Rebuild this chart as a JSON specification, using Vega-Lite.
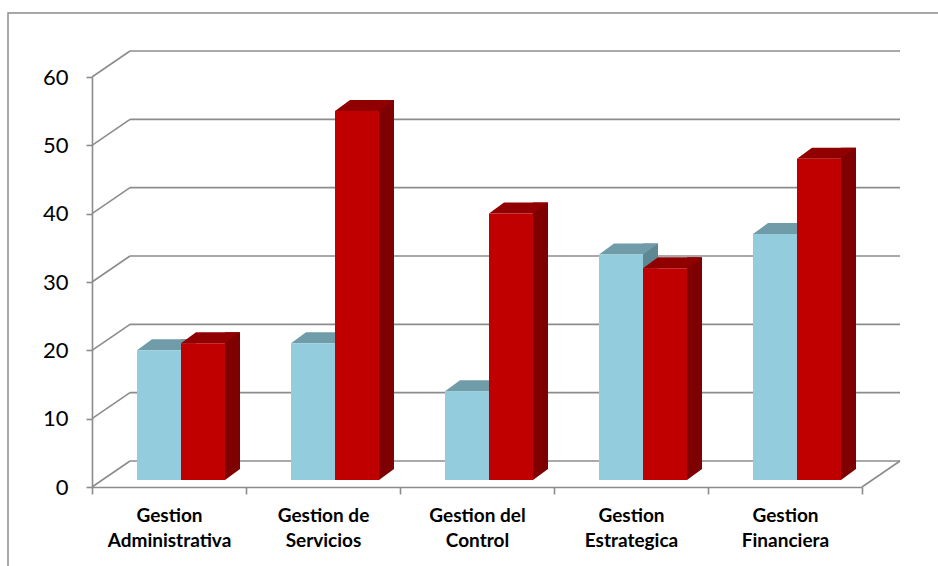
{
  "$schema": "https://vega.github.io/schema/vega-lite/v6.json",
  "width": 932,
  "height": 560,
  "autosize": {"type": "none"},
  "padding": {"left": 8, "top": 13, "right": 0, "bottom": 0},
  "background": "white",
  "config": {
    "view": {"stroke": "#8c8c8c", "strokeWidth": 1.5},
    "font": "Lato"
  },
  "datasets": {
    "bars": [
      {"cat": "Gestion Administrativa", "serie": "Serie 1", "value": 19},
      {"cat": "Gestion Administrativa", "serie": "Serie 2", "value": 20},
      {"cat": "Gestion de Servicios", "serie": "Serie 1", "value": 20},
      {"cat": "Gestion de Servicios", "serie": "Serie 2", "value": 54},
      {"cat": "Gestion del Control", "serie": "Serie 1", "value": 13},
      {"cat": "Gestion del Control", "serie": "Serie 2", "value": 39},
      {"cat": "Gestion Estrategica", "serie": "Serie 1", "value": 33},
      {"cat": "Gestion Estrategica", "serie": "Serie 2", "value": 31},
      {"cat": "Gestion Financiera", "serie": "Serie 1", "value": 36},
      {"cat": "Gestion Financiera", "serie": "Serie 2", "value": 47}
    ],
    "ticks": [{"v": 0}, {"v": 10}, {"v": 20}, {"v": 30}, {"v": 40}, {"v": 50}, {"v": 60}]
  },
  "data": {"name": "bars"},
  "layer": [
    {
      "data": {"name": "ticks"},
      "mark": {"type": "rule", "color": "#8c8c8c", "strokeWidth": 1.6, "xOffset": 38, "x2Offset": 38, "yOffset": -26},
      "encoding": {
        "x": {"datum": "Gestion Administrativa", "type": "nominal", "bandPosition": 0},
        "x2": {"datum": "Gestion Financiera", "bandPosition": 1},
        "y": {"field": "v", "type": "quantitative"}
      }
    },
    {
      "data": {"name": "ticks"},
      "mark": {"type": "rule", "color": "#8c8c8c", "strokeWidth": 1.6, "x2Offset": 38, "y2Offset": -26},
      "encoding": {
        "x": {"datum": "Gestion Administrativa", "type": "nominal", "bandPosition": 0},
        "x2": {"datum": "Gestion Administrativa", "bandPosition": 0},
        "y": {"field": "v", "type": "quantitative"},
        "y2": {"field": "v"}
      }
    },
    {
      "data": {"values": [{"v": 0}]},
      "mark": {"type": "rule", "color": "#8c8c8c", "strokeWidth": 1.6, "x2Offset": 38, "y2Offset": -26},
      "encoding": {
        "x": {"datum": "Gestion Financiera", "type": "nominal", "bandPosition": 1},
        "x2": {"datum": "Gestion Financiera", "bandPosition": 1},
        "y": {"field": "v", "type": "quantitative"},
        "y2": {"field": "v"}
      }
    },
    {
      "transform": [{"filter": "datum.serie == 'Serie 1'"}],
      "mark": {"type": "bar", "color": "#5e8893", "width": 15, "xOffset": 19.5, "yOffset": -18, "y2Offset": -18},
      "encoding": {
        "x": {"field": "cat", "type": "nominal"},
        "y": {"field": "value", "type": "quantitative"},
        "y2": {"datum": 0}
      }
    },
    {
      "transform": [{"filter": "datum.serie == 'Serie 1'"}],
      "mark": {"type": "point", "filled": true, "opacity": 1, "strokeWidth": 0, "size": 10000, "color": "#5e8893", "xOffset": -10, "yOffset": -7, "shape": "M0.44,-0.22L0.74,-0.22L0.44,0Z"},
      "encoding": {
        "x": {"field": "cat", "type": "nominal"},
        "y": {"datum": 0, "type": "quantitative"}
      }
    },
    {
      "transform": [{"filter": "datum.serie == 'Serie 1'"}],
      "mark": {"type": "point", "filled": true, "opacity": 1, "strokeWidth": 0, "size": 10000, "color": "#6f9ca8", "xOffset": -10, "yOffset": -7, "shape": "M-0.44,0L0.44,0L0.74,-0.22L-0.14,-0.22Z"},
      "encoding": {
        "x": {"field": "cat", "type": "nominal"},
        "y": {"field": "value", "type": "quantitative"}
      }
    },
    {
      "transform": [{"filter": "datum.serie == 'Serie 1'"}],
      "mark": {"type": "bar", "color": "#93cddd", "width": 44, "xOffset": -10, "yOffset": -7, "y2Offset": -7},
      "encoding": {
        "x": {"field": "cat", "type": "nominal"},
        "y": {"field": "value", "type": "quantitative"},
        "y2": {"datum": 0}
      }
    },
    {
      "transform": [{"filter": "datum.serie == 'Serie 2'"}],
      "mark": {"type": "bar", "color": "#7f0000", "width": 15, "xOffset": 63.5, "yOffset": -18, "y2Offset": -18},
      "encoding": {
        "x": {"field": "cat", "type": "nominal"},
        "y": {"field": "value", "type": "quantitative"},
        "y2": {"datum": 0}
      }
    },
    {
      "transform": [{"filter": "datum.serie == 'Serie 2'"}],
      "mark": {"type": "point", "filled": true, "opacity": 1, "strokeWidth": 0, "size": 10000, "color": "#7f0000", "xOffset": 34, "yOffset": -7, "shape": "M0.44,-0.22L0.74,-0.22L0.44,0Z"},
      "encoding": {
        "x": {"field": "cat", "type": "nominal"},
        "y": {"datum": 0, "type": "quantitative"}
      }
    },
    {
      "transform": [{"filter": "datum.serie == 'Serie 2'"}],
      "mark": {"type": "point", "filled": true, "opacity": 1, "strokeWidth": 0, "size": 10000, "color": "#900000", "xOffset": 34, "yOffset": -7, "shape": "M-0.44,0L0.44,0L0.74,-0.22L-0.14,-0.22Z"},
      "encoding": {
        "x": {"field": "cat", "type": "nominal"},
        "y": {"field": "value", "type": "quantitative"}
      }
    },
    {
      "transform": [{"filter": "datum.serie == 'Serie 2'"}],
      "mark": {"type": "bar", "color": "#c00000", "width": 44, "xOffset": 34, "yOffset": -7, "y2Offset": -7},
      "encoding": {
        "x": {
          "field": "cat",
          "type": "nominal",
          "scale": {
            "type": "band",
            "domain": ["Gestion Administrativa", "Gestion de Servicios", "Gestion del Control", "Gestion Estrategica", "Gestion Financiera"],
            "range": [84, 854],
            "paddingInner": 0,
            "paddingOuter": 0
          },
          "axis": {
            "title": null,
            "offset": -86,
            "domainColor": "#8c8c8c",
            "domainWidth": 1.6,
            "tickColor": "#8c8c8c",
            "tickWidth": 1.6,
            "tickSize": 7,
            "tickBand": "extent",
            "labelAngle": 0,
            "labelAlign": "center",
            "labelFont": "Lato",
            "labelFontSize": 19,
            "labelFontWeight": "bold",
            "labelColor": "#000000",
            "labelPadding": 21,
            "labelLineHeight": 25,
            "labelExpr": "[substring(datum.label, 0, lastindexof(datum.label, ' ')), substring(datum.label, lastindexof(datum.label, ' ') + 1)]"
          }
        },
        "y": {
          "field": "value",
          "type": "quantitative",
          "scale": {"domain": [0, 60], "range": [474, 64], "nice": false, "zero": true},
          "axis": {
            "title": null,
            "offset": -84,
            "values": [0, 10, 20, 30, 40, 50, 60],
            "grid": false,
            "domainColor": "#8c8c8c",
            "domainWidth": 1.6,
            "tickColor": "#8c8c8c",
            "tickWidth": 1.6,
            "tickSize": 6,
            "labelFont": "Lato",
            "labelFontSize": 22,
            "labelColor": "#000000",
            "labelPadding": 18
          }
        },
        "y2": {"datum": 0}
      }
    }
  ]
}
